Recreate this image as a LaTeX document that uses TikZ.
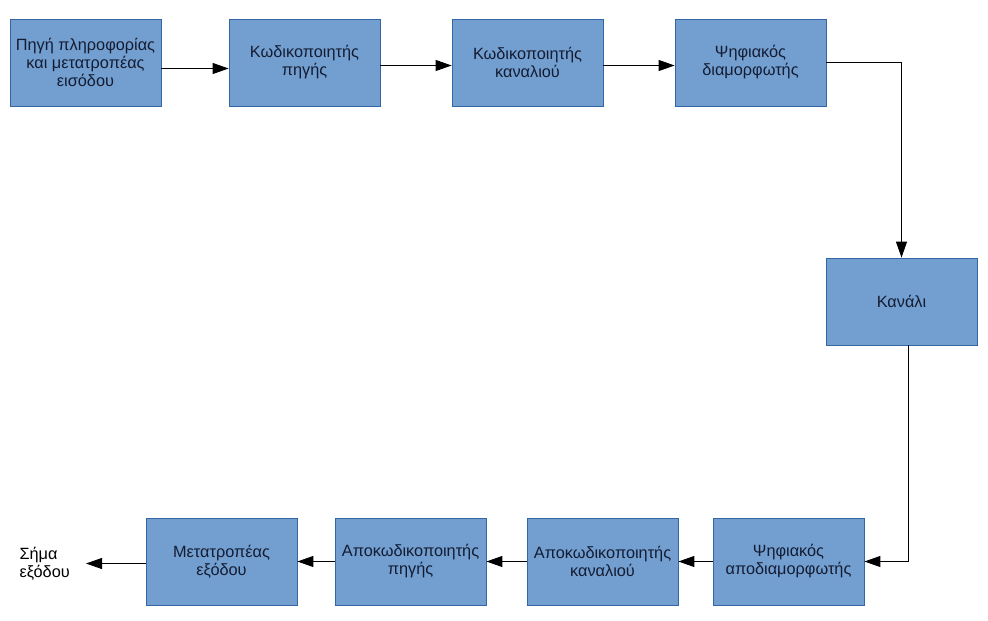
\documentclass[tikz,border=0pt]{standalone}
\usepackage{fontspec}
\setmainfont{Liberation Sans}
\usetikzlibrary{arrows.meta,positioning,calc}
\definecolor{boxfill}{HTML}{729FCF}
\definecolor{boxline}{HTML}{3465A4}
\definecolor{boxtext}{HTML}{141C33}
\tikzset{
  blk/.style={draw=boxline,fill=boxfill,rectangle,minimum width=151pt,minimum height=87pt,inner sep=0pt,align=center,font=\fontsize{16.3}{18}\selectfont,text=boxtext,line width=0.8pt},
  arr/.style={-{Triangle[length=16pt,width=11pt]},line width=0.9pt,black},
  lbl/.style={align=left,font=\fontsize{16.3}{18}\selectfont,text=black}
}
\begin{document}
\begin{tikzpicture}[x=1pt,y=-1pt]
  \useasboundingbox (0,0) rectangle (988,621);
  % Transmitter
  \node[blk] (src)  at (85.5,62.5)  {Πηγή πληροφορίας\\και μετατροπέας\\εισόδου};
  \node[blk] (senc) at (304.5,62.5) {Κωδικοποιητής\\πηγής};
  \node[blk] (cenc) at (527.5,62.5) {Κωδικοποιητής\\καναλιού};
  \node[blk] (mod)  at (750.5,62.5) {Ψηφιακός\\διαμορφωτής};

  % Channel
  \node[blk] (chan) at (901.5,301.5) {Κανάλι};

  % Receiver
  \node[blk] (demod) at (788.5,561.5) {Ψηφιακός\\αποδιαμορφωτής};
  \node[blk] (cdec)  at (602.5,561.5) {Αποκωδικοποιητής\\καναλιού};
  \node[blk] (sdec)  at (410.5,561.5) {Αποκωδικοποιητής\\πηγής};
  \node[blk] (sink)  at (221.5,561.5) {Μετατροπέας\\εξόδου};
  \node[lbl, anchor=west] (out) at (16,564) {Σήμα\\εξόδου};
  \coordinate (outend) at (86,563.5);

  % Connections
  \draw[arr] ([yshift=-6pt]src.east) -- ([yshift=-6pt]senc.west);
  \draw[arr] ([yshift=-3pt]senc.east) -- ([yshift=-3pt]cenc.west);
  \draw[arr] ([yshift=-3pt]cenc.east) -- ([yshift=-3pt]mod.west);
  \draw[arr] (mod.east) -| (chan.north);
  \draw[arr] ([xshift=7pt]chan.south) |- (demod.east);
  \draw[arr] (demod.west) -- (cdec.east);
  \draw[arr] (cdec.west) -- (sdec.east);
  \draw[arr] (sdec.west) -- (sink.east);
  \draw[arr] ([yshift=-2pt]sink.west) -- (outend);
\end{tikzpicture}
\end{document}
